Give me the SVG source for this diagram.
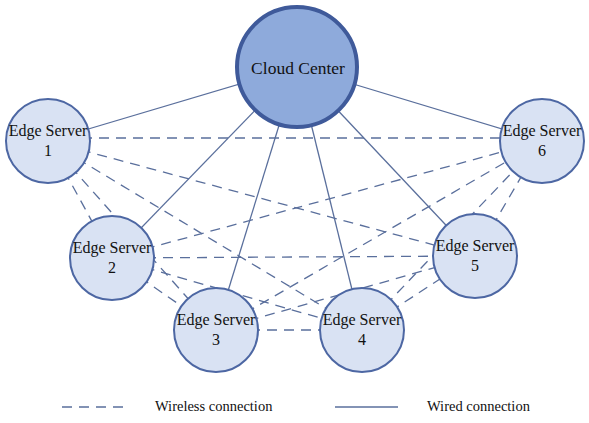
<svg xmlns="http://www.w3.org/2000/svg" width="589" height="423" viewBox="0 0 589 423" font-family="'Liberation Serif', 'Times New Roman', serif">
<style>
.w{stroke:#5a6f9c;stroke-width:1.3;fill:none}
.d{stroke:#5a6f9c;stroke-width:1.3;fill:none;stroke-dasharray:10 7}
.n{fill:#d9e2f3;stroke:#4d67a3;stroke-width:2}
.c{fill:#8eaadb;stroke:#3f5a9a;stroke-width:4}
text{font-family:'Liberation Serif','Times New Roman',serif;fill:#111;text-anchor:middle}
.t{font-size:16px}
.lg{font-size:14.5px;text-anchor:start}
</style>
<rect width="589" height="423" fill="#fff"/>
<g id="connectors">
<line class="w" x1="297" y1="67" x2="48" y2="141"/>
<line class="w" x1="297" y1="67" x2="542" y2="141"/>
<line class="w" x1="297" y1="67" x2="112" y2="258"/>
<line class="w" x1="297" y1="67" x2="216" y2="330"/>
<line class="w" x1="297" y1="67" x2="362" y2="330"/>
<line class="w" x1="297" y1="67" x2="475" y2="256"/>
<line class="d" x1="48" y1="138" x2="542" y2="138"/>
<line class="d" x1="48" y1="141" x2="112" y2="258"/>
<line class="d" x1="48" y1="141" x2="216" y2="330"/>
<line class="d" x1="48" y1="141" x2="362" y2="330"/>
<line class="d" x1="48" y1="141" x2="475" y2="256"/>
<line class="d" x1="112" y1="258" x2="542" y2="141"/>
<line class="d" x1="112" y1="258" x2="216" y2="330"/>
<line class="d" x1="112" y1="258" x2="362" y2="330"/>
<line class="d" x1="112" y1="258" x2="475" y2="256"/>
<line class="d" x1="216" y1="330" x2="362" y2="330"/>
<line class="d" x1="216" y1="330" x2="475" y2="256"/>
<line class="d" x1="216" y1="330" x2="542" y2="141"/>
<line class="d" x1="362" y1="330" x2="475" y2="256"/>
<line class="d" x1="362" y1="330" x2="542" y2="141"/>
<line class="d" x1="475" y1="256" x2="542" y2="141"/>
</g>
<g id="cloud"><circle class="c" cx="297" cy="67" r="60"/><text x="298" y="74" style="font-size:17.5px">Cloud Center</text></g>
<g id="es1"><circle class="n" cx="48" cy="141" r="42"/><text class="t" x="48" y="136">Edge Server</text><text class="t" x="48" y="156">1</text></g>
<g id="es6"><circle class="n" cx="542" cy="141" r="42"/><text class="t" x="542" y="136">Edge Server</text><text class="t" x="542" y="156">6</text></g>
<g id="es2"><circle class="n" cx="112" cy="258" r="42"/><text class="t" x="112" y="253">Edge Server</text><text class="t" x="112" y="273">2</text></g>
<g id="es5"><circle class="n" cx="475" cy="256" r="42"/><text class="t" x="475" y="251">Edge Server</text><text class="t" x="475" y="271">5</text></g>
<g id="es3"><circle class="n" cx="216" cy="330" r="42"/><text class="t" x="216" y="325">Edge Server</text><text class="t" x="216" y="345">3</text></g>
<g id="es4"><circle class="n" cx="362" cy="330" r="42"/><text class="t" x="362" y="325">Edge Server</text><text class="t" x="362" y="345">4</text></g>
<g id="legend">
<line class="d" x1="62" y1="407" x2="128" y2="407"/>
<text class="lg" x="155" y="411">Wireless connection</text>
<line class="w" x1="335" y1="407" x2="398" y2="407"/>
<text class="lg" x="427" y="411">Wired connection</text>
</g>
</svg>
